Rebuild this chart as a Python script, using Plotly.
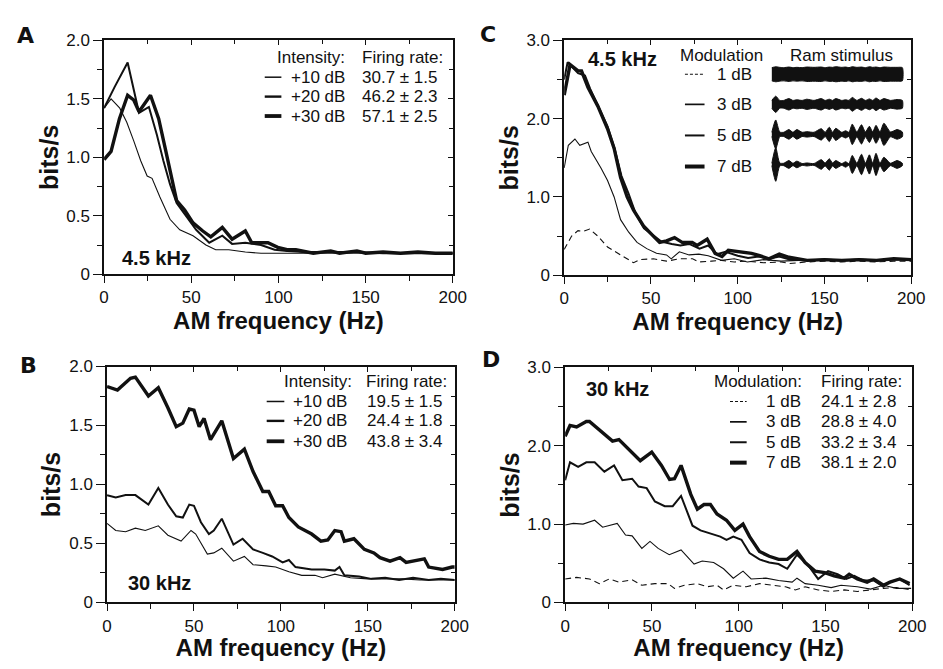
import plotly.graph_objects as go

# page is 943x669; the html body adds an 8px margin, so the figure itself is 16px smaller
PAGE_W, PAGE_H = 943, 669
MARGIN = 8
W, H = PAGE_W - 2 * MARGIN, PAGE_H - 2 * MARGIN

# ---------------- data ----------------
# Panel A (4.5 kHz, intensity)
a_x10 = [0, 4, 9, 13, 17, 21, 24.7, 27.5, 32, 37.8, 43.4, 51, 58.4, 64, 71.5, 81, 90, 100, 110, 125, 140, 155, 170, 185, 200]
a_y10 = [1.42, 1.50, 1.42, 1.30, 1.14, 0.97, 0.84, 0.82, 0.66, 0.47, 0.38, 0.33, 0.25, 0.21, 0.21, 0.19, 0.18, 0.18, 0.18, 0.18, 0.18, 0.18, 0.18, 0.18, 0.18]
a_x20 = [0, 6, 13.5, 20, 25.7, 30.3, 34, 37.8, 41.6, 47, 52.8, 60.3, 67.8, 73.4, 81, 90, 97.8, 105, 115, 130, 145, 160, 175, 190, 200]
a_y20 = [1.42, 1.60, 1.81, 1.38, 1.43, 1.19, 0.97, 0.77, 0.61, 0.50, 0.38, 0.27, 0.33, 0.26, 0.27, 0.25, 0.21, 0.20, 0.19, 0.19, 0.19, 0.18, 0.18, 0.18, 0.18]
a_x30 = [0, 4, 8.8, 13.5, 17, 20, 26.6, 31.3, 35, 38.8, 41.6, 46.2, 51, 56.6, 61.2, 67.8, 73.4, 81, 84.7, 94, 99.6, 105, 110, 120, 130, 135, 145, 150, 160, 170, 180, 190, 200]
a_y30 = [0.98, 1.05, 1.33, 1.53, 1.49, 1.39, 1.53, 1.33, 1.08, 0.80, 0.63, 0.55, 0.44, 0.37, 0.32, 0.40, 0.30, 0.37, 0.27, 0.27, 0.23, 0.21, 0.21, 0.18, 0.20, 0.18, 0.20, 0.18, 0.19, 0.18, 0.19, 0.18, 0.18]

# Panel B (30 kHz, intensity)
b_x10 = [0, 5, 10.7, 16.3, 22, 29.5, 35, 42.6, 48.3, 51, 57.7, 61.4, 66, 72.7, 79, 84, 91.5, 97, 104.6, 112, 119.6, 124, 131, 140, 150, 160, 170, 180, 190, 200]
b_y10 = [0.67, 0.61, 0.60, 0.63, 0.61, 0.65, 0.57, 0.52, 0.61, 0.58, 0.41, 0.42, 0.46, 0.35, 0.39, 0.32, 0.31, 0.30, 0.26, 0.23, 0.23, 0.21, 0.24, 0.21, 0.20, 0.20, 0.20, 0.19, 0.19, 0.19]
b_x20 = [0, 5, 10.7, 16.3, 23.8, 29.5, 35, 39.8, 43.6, 47.3, 50, 54, 58.6, 61.4, 66, 72.7, 78, 84, 89.6, 95, 101, 104.6, 108.4, 117.7, 125, 131, 133.7, 136.5, 145, 152, 160, 168, 176, 185, 192, 200]
b_y20 = [0.91, 0.89, 0.91, 0.91, 0.83, 0.97, 0.83, 0.73, 0.72, 0.83, 0.82, 0.68, 0.58, 0.61, 0.71, 0.49, 0.54, 0.45, 0.42, 0.39, 0.34, 0.36, 0.30, 0.28, 0.28, 0.27, 0.30, 0.23, 0.22, 0.20, 0.21, 0.19, 0.21, 0.19, 0.20, 0.19]
b_x30 = [0, 6, 13.5, 16.3, 23.8, 29.5, 35, 39.8, 43.6, 47.3, 50, 53, 55.8, 59.5, 66, 72.7, 79, 84, 89.6, 93, 97, 101, 104.6, 110, 117.7, 123, 127, 131, 134.6, 136.5, 142, 148, 153.5, 157, 162.8, 168.5, 172, 178, 182.5, 185, 193, 198.5, 200]
b_y30 = [1.83, 1.80, 1.90, 1.91, 1.75, 1.82, 1.65, 1.49, 1.52, 1.64, 1.63, 1.49, 1.56, 1.38, 1.54, 1.22, 1.30, 1.11, 0.94, 0.94, 0.82, 0.82, 0.72, 0.64, 0.58, 0.52, 0.53, 0.61, 0.60, 0.52, 0.54, 0.45, 0.42, 0.38, 0.35, 0.38, 0.34, 0.36, 0.37, 0.30, 0.28, 0.30, 0.30]

# Panel C (4.5 kHz, modulation depth)
c_x1 = [0, 4.3, 8, 10.9, 14.7, 19.4, 25, 30.7, 36.3, 40, 43.8, 51.4, 59, 66.5, 74, 77.8, 85, 90.7, 98, 105, 115, 125, 130, 140, 150, 160, 170, 180, 190, 200]
c_y1 = [0.33, 0.50, 0.57, 0.56, 0.59, 0.50, 0.36, 0.28, 0.21, 0.16, 0.20, 0.21, 0.18, 0.21, 0.21, 0.17, 0.18, 0.19, 0.17, 0.18, 0.16, 0.17, 0.15, 0.17, 0.18, 0.17, 0.18, 0.17, 0.18, 0.18]
c_x3 = [0, 2.4, 6.2, 9, 13.7, 15.6, 21.2, 25, 28.8, 32.5, 37.2, 42, 47.6, 53.2, 59, 61.7, 66.4, 72, 77.6, 83, 90.7, 98, 105.6, 115, 125, 135]
c_y3 = [1.37, 1.66, 1.74, 1.66, 1.70, 1.58, 1.37, 1.21, 1.00, 0.71, 0.55, 0.42, 0.34, 0.28, 0.26, 0.21, 0.30, 0.26, 0.27, 0.25, 0.19, 0.21, 0.17, 0.20, 0.18, 0.19]
c_x5 = [0, 2, 8, 12, 15, 20, 25, 29, 33, 37, 41, 46, 51, 56, 62, 67, 72, 78, 83, 88, 93, 100, 106, 112, 118, 124, 130, 140, 150, 160, 170, 180, 190, 200]
c_y5 = [2.50, 2.72, 2.58, 2.55, 2.38, 2.14, 1.90, 1.62, 1.27, 1.05, 0.80, 0.60, 0.52, 0.43, 0.40, 0.38, 0.40, 0.34, 0.38, 0.27, 0.30, 0.25, 0.22, 0.24, 0.21, 0.24, 0.20, 0.19, 0.20, 0.19, 0.20, 0.19, 0.20, 0.20]
c_x7 = [0, 3.4, 8, 10, 13.7, 19.4, 25, 28.8, 32.5, 36.3, 40, 45.7, 51.4, 55, 59, 63.6, 68, 73.8, 76.6, 82.4, 87, 91, 94.6, 102, 108, 112.7, 118, 124, 129.5, 140, 150, 160, 170, 180, 190, 200]
c_y7 = [2.30, 2.69, 2.61, 2.61, 2.40, 2.16, 1.87, 1.62, 1.25, 1.00, 0.83, 0.63, 0.50, 0.42, 0.44, 0.48, 0.42, 0.42, 0.38, 0.46, 0.28, 0.24, 0.32, 0.30, 0.28, 0.25, 0.21, 0.27, 0.23, 0.19, 0.20, 0.19, 0.20, 0.19, 0.21, 0.20]

# Panel D (30 kHz, modulation depth)
d_x1 = [0, 6.6, 14, 19.7, 25.4, 31, 38.6, 44.2, 51.7, 59.3, 63, 68.7, 76.2, 81.8, 87.5, 91.3, 96.9, 104.4, 112, 119.6, 127, 132.6, 138.3, 145.8, 153.3, 161, 168.4, 176, 183.4, 191, 199.4]
d_y1 = [0.30, 0.32, 0.30, 0.24, 0.30, 0.26, 0.29, 0.22, 0.24, 0.24, 0.18, 0.22, 0.24, 0.20, 0.22, 0.16, 0.22, 0.20, 0.24, 0.22, 0.20, 0.16, 0.20, 0.16, 0.14, 0.16, 0.14, 0.16, 0.18, 0.19, 0.16]
d_x3 = [0, 4.7, 10.3, 17, 21.6, 30, 34.8, 38.6, 44.2, 48.9, 53.6, 60, 66.8, 74.3, 79, 85.6, 91.3, 96.9, 102.5, 107.2, 115.7, 123, 130.8, 133.6, 138.3, 145.8, 153.3, 159, 168.4, 176, 183.4, 191, 199.4]
d_y3 = [0.99, 1.01, 1.00, 1.05, 0.96, 1.01, 0.86, 0.85, 0.69, 0.78, 0.69, 0.61, 0.67, 0.49, 0.53, 0.51, 0.43, 0.31, 0.40, 0.30, 0.31, 0.28, 0.26, 0.31, 0.24, 0.22, 0.19, 0.22, 0.20, 0.17, 0.22, 0.18, 0.18]
d_x5 = [0, 2.8, 7.5, 12.2, 17, 22.6, 28.2, 33, 38.6, 42.3, 47, 51.7, 57.4, 62, 66.8, 73.4, 78, 83.7, 89.4, 93, 96.9, 101.6, 106.3, 112, 117.6, 123, 128, 133.6, 140.2, 145.8, 151.5, 157, 162, 166.6, 172, 177.8, 183.4, 187, 193, 198.5]
d_y5 = [1.56, 1.79, 1.73, 1.79, 1.79, 1.67, 1.75, 1.56, 1.58, 1.48, 1.46, 1.29, 1.23, 1.23, 1.36, 0.98, 0.92, 0.88, 0.84, 0.80, 0.84, 0.80, 0.63, 0.55, 0.51, 0.49, 0.43, 0.61, 0.47, 0.30, 0.40, 0.36, 0.30, 0.34, 0.28, 0.28, 0.20, 0.26, 0.30, 0.22]
d_x7 = [0, 2.8, 6.6, 12.2, 14, 21.6, 27.3, 31, 36.7, 43.3, 49.9, 55.5, 60.2, 63, 66.8, 72.4, 76.2, 80, 83.7, 87.5, 93, 97.8, 102.5, 106.3, 112, 117.6, 123, 128, 133.6, 138.3, 144, 149.6, 155, 160.9, 163.7, 168.4, 174, 177.8, 183.4, 187.2, 192.8, 198.5]
d_y7 = [2.12, 2.26, 2.24, 2.31, 2.31, 2.16, 2.06, 2.08, 1.95, 1.81, 1.92, 1.75, 1.57, 1.58, 1.75, 1.38, 1.19, 1.25, 1.25, 1.13, 1.05, 0.92, 1.00, 0.84, 0.65, 0.59, 0.55, 0.55, 0.65, 0.51, 0.40, 0.38, 0.34, 0.31, 0.36, 0.30, 0.26, 0.30, 0.22, 0.26, 0.30, 0.24]

# Ram stimulus envelopes (panel C inset), half-amplitude per row
stim_pos = [0.0, 0.03, 0.06, 0.09, 0.13, 0.16, 0.19, 0.23, 0.265, 0.32, 0.375, 0.405, 0.436, 0.46, 0.485, 0.53, 0.56, 0.585, 0.61, 0.645, 0.68, 0.71, 0.74, 0.765, 0.79, 0.82, 0.85, 0.9, 0.95, 0.99]
stim_1db = [0.22, 0.25, 0.23, 0.22, 0.24, 0.22, 0.23, 0.22, 0.24, 0.23, 0.24, 0.22, 0.24, 0.23, 0.25, 0.23, 0.24, 0.22, 0.25, 0.23, 0.24, 0.22, 0.25, 0.23, 0.24, 0.22, 0.24, 0.23, 0.23, 0.22]
stim_3db = [0.13, 0.27, 0.13, 0.13, 0.19, 0.13, 0.15, 0.13, 0.17, 0.13, 0.19, 0.13, 0.17, 0.13, 0.19, 0.13, 0.15, 0.13, 0.23, 0.13, 0.20, 0.13, 0.18, 0.13, 0.21, 0.13, 0.19, 0.13, 0.16, 0.13]
stim_5db = [0.07, 0.48, 0.08, 0.07, 0.16, 0.07, 0.16, 0.07, 0.09, 0.07, 0.19, 0.07, 0.24, 0.07, 0.20, 0.07, 0.12, 0.07, 0.34, 0.08, 0.32, 0.08, 0.27, 0.08, 0.30, 0.08, 0.37, 0.08, 0.16, 0.08]
stim_7db = [0.04, 0.56, 0.05, 0.04, 0.13, 0.04, 0.11, 0.03, 0.05, 0.03, 0.16, 0.05, 0.19, 0.05, 0.13, 0.03, 0.09, 0.03, 0.30, 0.04, 0.34, 0.04, 0.32, 0.04, 0.37, 0.04, 0.24, 0.04, 0.13, 0.04]

# Axis ticks
x_ticks = [0, 50, 100, 150, 200]
y2_ticks = [0, 0.5, 1.0, 1.5, 2.0]
y2_text = ["0", "0.5", "1.0", "1.5", "2.0"]
y3_ticks = [0, 1.0, 2.0, 3.0]
y3_text = ["0", "1.0", "2.0", "3.0"]

# Legend texts
int_labels = ["+10 dB", "+20 dB", "+30 dB"]
a_rates = ["30.7 ± 1.5", "46.2 ± 2.3", "57.1 ± 2.5"]
b_rates = ["19.5 ± 1.5", "24.4 ± 1.8", "43.8 ± 3.4"]
mod_labels = ["1 dB", "3 dB", "5 dB", "7 dB"]
d_rates = ["24.1 ± 2.8", "28.8 ± 4.0", "33.2 ± 3.4", "38.1 ± 2.0"]

# ---------------- styling helpers ----------------
FONT = "Liberation Sans, Arial, sans-serif"
INK = "#111111"
THIN, MED, THICK = 1.1, 2.0, 3.4
DASH = "6px,4px"
LEG = 17

def fx(px):
    return (px - MARGIN) / W

def fy(py):
    return 1 - (py - MARGIN) / H

fig = go.Figure()

def add_line(x, y, xa, ya, width, dash="solid"):
    fig.add_trace(go.Scatter(x=x, y=y, xaxis=xa, yaxis=ya, mode="lines",
                             line=dict(color=INK, width=width, dash=dash),
                             showlegend=False, hoverinfo="skip"))

add_line(a_x10, a_y10, "x", "y", THIN)
add_line(a_x20, a_y20, "x", "y", MED)
add_line(a_x30, a_y30, "x", "y", THICK)

add_line(b_x10, b_y10, "x2", "y2", THIN)
add_line(b_x20, b_y20, "x2", "y2", MED)
add_line(b_x30, b_y30, "x2", "y2", THICK)

add_line(c_x1, c_y1, "x3", "y3", THIN, DASH)
add_line(c_x3, c_y3, "x3", "y3", THIN)
add_line(c_x5, c_y5, "x3", "y3", MED)
add_line(c_x7, c_y7, "x3", "y3", THICK)

add_line(d_x1, d_y1, "x4", "y4", THIN, DASH)
add_line(d_x3, d_y3, "x4", "y4", THIN)
add_line(d_x5, d_y5, "x4", "y4", MED)
add_line(d_x7, d_y7, "x4", "y4", THICK)

# stimulus envelopes
for offset, env in zip([3, 2, 1, 0], [stim_1db, stim_3db, stim_5db, stim_7db]):
    xs = stim_pos + stim_pos[::-1]
    ys = [offset + e for e in env] + [offset - e for e in env[::-1]]
    fig.add_trace(go.Scatter(x=xs, y=ys, xaxis="x5", yaxis="y5", mode="lines",
                             fill="toself", fillcolor=INK,
                             line=dict(color=INK, width=1, shape="spline", smoothing=0.6),
                             showlegend=False, hoverinfo="skip"))

# ---------------- axes ----------------
panels = [
    ((101, 457), (32, 273), 2.0),   # A
    ((104, 459), (368, 611), 2.0),  # B
    ((570.7, 925), (32, 274), 3.0), # C
    ((571.7, 926), (369, 611), 3.0),# D
]
layout = {}
for i, ((x0, x1), (y0, y1), ymax) in enumerate(panels):
    s = "" if i == 0 else str(i + 1)
    if ymax == 2.0:
        yvals, ytext, ymin_dt = y2_ticks, y2_text, 0.25
    else:
        yvals, ytext, ymin_dt = y3_ticks, y3_text, 0.5
    xdom = [fx(x0), fx(x1)]
    ydom = [fy(y1), fy(y0)]
    layout["xaxis" + s] = dict(
        domain=xdom, range=[0, 200], anchor="y" + s,
        tickvals=x_ticks, ticks="outside", ticklen=7, tickwidth=1.3,
        tickcolor=INK, showline=True, linecolor=INK, linewidth=1.5, mirror=True,
        showgrid=False, zeroline=False,
        minor=dict(dtick=25, tick0=0, ticks="outside", ticklen=5, tickwidth=1.1, tickcolor=INK, showgrid=False),
        tickfont=dict(family=FONT, size=17, color=INK),
        title=dict(text="<b>AM frequency (Hz)</b>", font=dict(family=FONT, size=24, color=INK), standoff=0),
    )
    layout["yaxis" + s] = dict(
        domain=ydom, range=[0, ymax], anchor="x" + s,
        tickvals=yvals, ticktext=ytext, ticks="outside", ticklen=9, tickwidth=1.3,
        tickcolor=INK, showline=True, linecolor=INK, linewidth=1.5, mirror=True,
        showgrid=False, zeroline=False,
        minor=dict(dtick=ymin_dt, tick0=0, ticks="outside", ticklen=5, tickwidth=1.1, tickcolor=INK, showgrid=False),
        tickfont=dict(family=FONT, size=17, color=INK),
        title=dict(text="<b>bits/s</b>", font=dict(family=FONT, size=25, color=INK), standoff=1),
    )
    # inward ticks on top and right edges
    tx = str(6 + i)
    ty = str(10 + i)
    layout["xaxis" + tx] = dict(
        overlaying="x" + s, anchor="y" + s, side="top", range=[0, 200],
        tickvals=x_ticks, ticks="inside", ticklen=5, tickwidth=1.1, tickcolor=INK,
        showticklabels=False, showline=False, showgrid=False, zeroline=False,
        minor=dict(dtick=25, tick0=0, ticks="inside", ticklen=4, tickwidth=1, tickcolor=INK, showgrid=False),
    )
    layout["yaxis" + ty] = dict(
        overlaying="y" + s, anchor="x" + s, side="right", range=[0, ymax],
        tickvals=yvals, ticks="inside", ticklen=5, tickwidth=1.1, tickcolor=INK,
        showticklabels=False, showline=False, showgrid=False, zeroline=False,
        minor=dict(dtick=ymin_dt, tick0=0, ticks="inside", ticklen=4, tickwidth=1, tickcolor=INK, showgrid=False),
    )
    fig.add_trace(go.Scatter(x=[None], y=[None], xaxis="x" + tx, yaxis="y" + s,
                             mode="lines", showlegend=False, hoverinfo="skip"))
    fig.add_trace(go.Scatter(x=[None], y=[None], xaxis="x" + s, yaxis="y" + ty,
                             mode="lines", showlegend=False, hoverinfo="skip"))

layout["xaxis5"] = dict(domain=[fx(782), fx(918)], range=[-0.005, 1.005], anchor="y5",
                        visible=False, showgrid=False, zeroline=False)
layout["yaxis5"] = dict(domain=[fy(180), fy(45.3)], range=[-0.65, 3.7], anchor="x5",
                        visible=False, showgrid=False, zeroline=False)

fig.update_layout(**layout)

annotations = []
shapes = []

def text(px, py, s, size=LEG, anchor="left", bold=False, family=FONT):
    if bold:
        s = "<b>" + s + "</b>"
    annotations.append(dict(x=fx(px), y=fy(py), xref="paper", yref="paper", text=s,
                            showarrow=False, xanchor=anchor, yanchor="middle", borderpad=0,
                            font=dict(family=family, size=size, color=INK)))

def seg(px0, px1, py, width, dash="solid"):
    shapes.append(dict(type="line", xref="paper", yref="paper", x0=fx(px0), x1=fx(px1),
                       y0=fy(py), y1=fy(py), line=dict(color=INK, width=width, dash=dash)))

# panel letters
LETTER_FONT = "DejaVu Sans, Arial Black, sans-serif"
text(21, 27, "A", 22, "center", True, LETTER_FONT)
text(24, 367, "B", 22, "center", True, LETTER_FONT)
text(493, 26, "C", 22, "center", True, LETTER_FONT)
text(496, 361, "D", 22, "center", True, LETTER_FONT)

# frequency labels
text(155, 256, "4.5 kHz", 20, "center", True)
text(158, 591, "30 kHz", 20, "center", True)
text(630, 51, "4.5 kHz", 20, "center", True)
text(625, 391, "30 kHz", 20, "center", True)

widths3 = [THIN, MED, THICK]
# panel A legend
text(348, 50, "Intensity:", LEG, "right")
text(363, 50, "Firing rate:", LEG, "left")
for k, py in enumerate([70, 90, 110]):
    seg(265, 282, py, widths3[k] + 0.4)
    text(348, py, int_labels[k], LEG, "right")
    text(363, py, a_rates[k], LEG, "left")

# panel B legend
text(355, 383, "Intensity:", LEG, "right")
text(367, 383, "Firing rate:", LEG, "left")
for k, py in enumerate([404, 424, 445]):
    seg(267, 285, py, widths3[k] + 0.4)
    text(350, py, int_labels[k], LEG, "right")
    text(368, py, b_rates[k], LEG, "left")

widths4 = [THIN, THIN + 0.6, MED, THICK + 0.6]
dashes4 = ["3px,2px", "solid", "solid", "solid"]
# panel C legend
text(688, 48, "Modulation", LEG, "left")
text(800, 48, "Ram stimulus", LEG, "left")
for k, py in enumerate([67, 98, 130, 162]):
    seg(694, 714, py, widths4[k], dashes4[k])
    text(763, py, mod_labels[k], LEG, "right")

# panel D legend
text(815, 383, "Modulation:", LEG, "right")
text(832, 383, "Firing rate:", LEG, "left")
for k, py in enumerate([404, 425, 446, 467]):
    seg(740, 757, py, widths4[k], dashes4[k])
    text(813, py, mod_labels[k], LEG, "right")
    text(832, py, d_rates[k], LEG, "left")

fig.update_layout(
    width=W, height=H, margin=dict(l=0, r=0, t=0, b=0),
    paper_bgcolor="white", plot_bgcolor="white",
    showlegend=False, annotations=annotations, shapes=shapes,
    font=dict(family=FONT, color=INK),
)

fig.write_html("out.html")
